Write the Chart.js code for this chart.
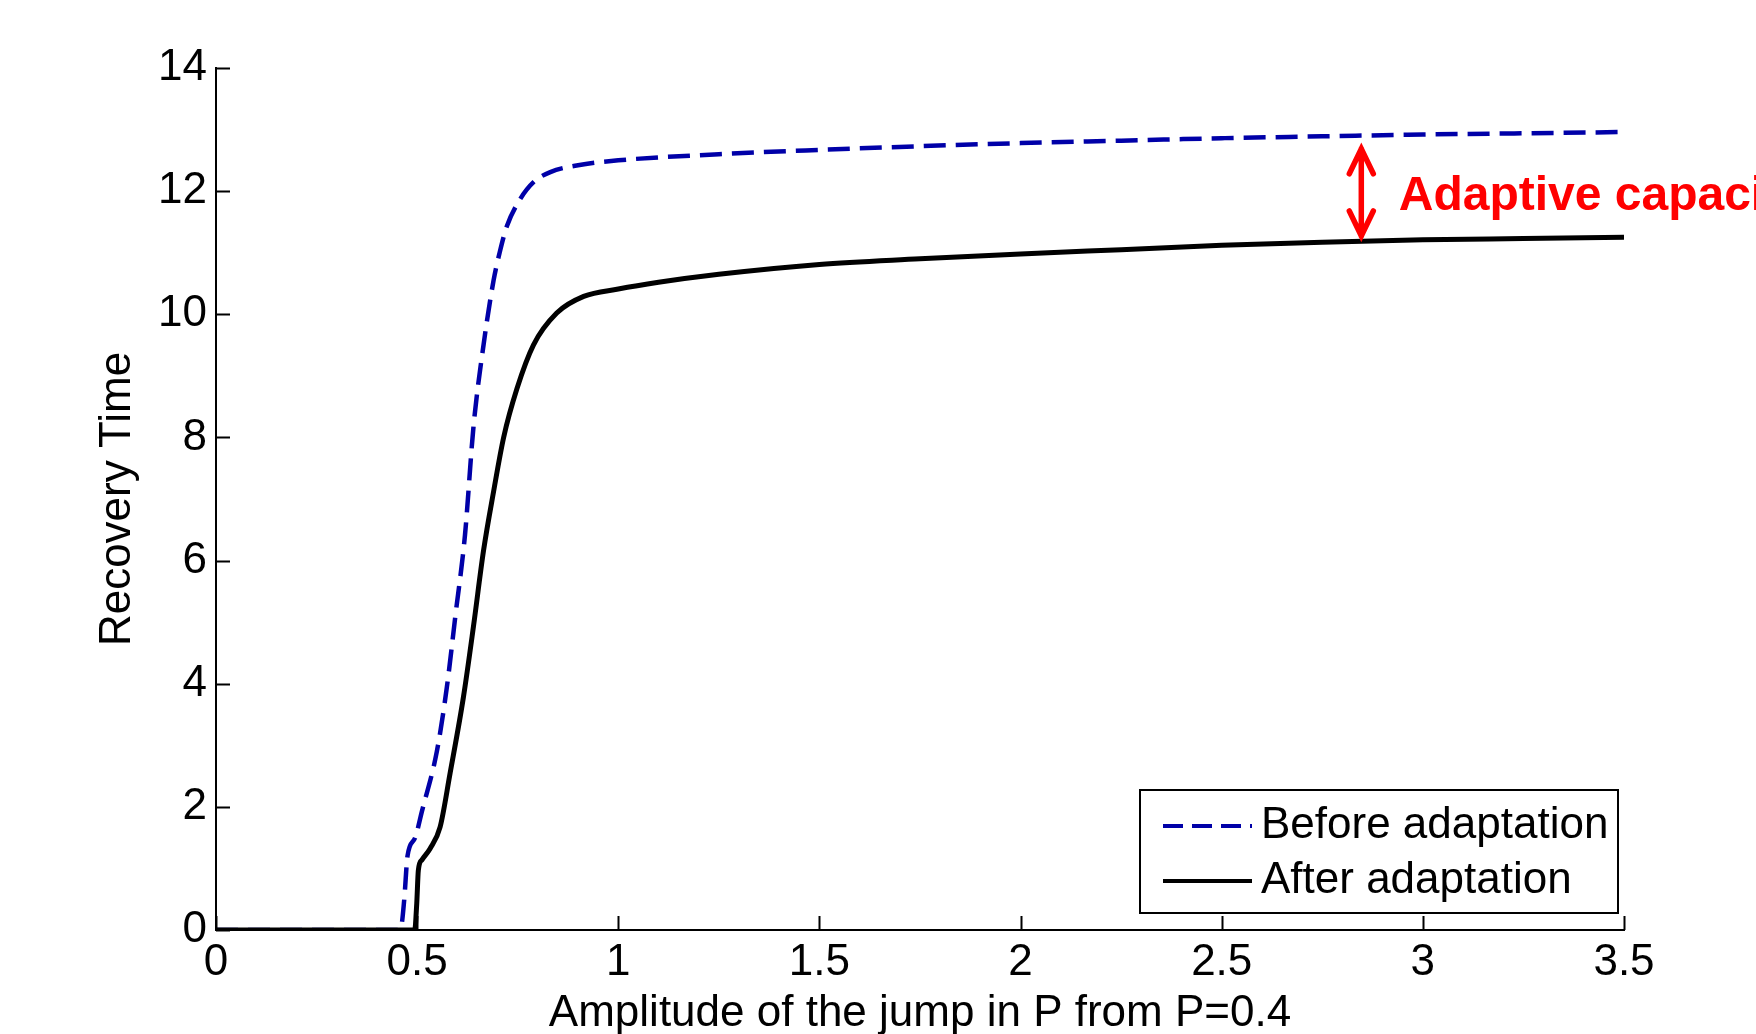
<!DOCTYPE html>
<html>
<head>
<meta charset="utf-8">
<script src="https://cdn.jsdelivr.net/npm/chart.js@4"></script>
<style>
  html, body { margin: 0; padding: 0; background: #fff; }
  #wrap { width: 1756px; height: 1034px; }
</style>
</head>
<body>
<div id="wrap"><canvas id="chart" width="1756" height="1034"></canvas></div>
<script>
// Recovery time vs jump amplitude, before / after adaptation

const xTickValues = [0, 0.5, 1, 1.5, 2, 2.5, 3, 3.5]
const xTickLabels = ['0', '0.5', '1', '1.5', '2', '2.5', '3', '3.5']
const yTickValues = [0, 2, 4, 6, 8, 10, 12, 14]
const yTickLabels = ['0', '2', '4', '6', '8', '10', '12', '14']

const beforeX = [0, 0.45, 0.46, 0.468, 0.476, 0.495, 0.512, 0.549, 0.574, 0.595, 0.619, 0.64, 0.665, 0.69, 0.705, 0.723, 0.756, 0.79, 0.831, 0.9, 1.0, 1.25, 1.5, 1.75, 2.0, 2.25, 2.5, 2.75, 3.0, 3.25, 3.5]
const beforeY = [0, 0, 0.05, 0.5, 1.2, 1.5, 1.93, 2.9, 3.95, 5.1, 6.42, 8.17, 9.5, 10.55, 11.0, 11.43, 11.87, 12.15, 12.31, 12.42, 12.5, 12.6, 12.67, 12.73, 12.78, 12.82, 12.86, 12.89, 12.92, 12.94, 12.96]

const afterX = [0, 0.494, 0.499, 0.503, 0.512, 0.532, 0.557, 0.582, 0.615, 0.64, 0.665, 0.69, 0.715, 0.748, 0.789, 0.847, 0.914, 1.0, 1.1, 1.25, 1.5, 1.75, 2.0, 2.25, 2.5, 2.75, 3.0, 3.25, 3.5]
const afterY = [0, 0, 0.43, 0.97, 1.14, 1.32, 1.67, 2.55, 3.78, 4.93, 6.16, 7.12, 8.0, 8.79, 9.5, 10.02, 10.29, 10.41, 10.52, 10.65, 10.81, 10.9, 10.98, 11.05, 11.12, 11.17, 11.21, 11.23, 11.25]

const seriesNames = ['Before adaptation', 'After adaptation']
const gapAt = 2.847
const gapTop = 12.72
const gapBottom = 11.24
const gapLabel = 'Adaptive capacity'

const FONT = '"Liberation Sans", Arial, Helvetica, sans-serif'
const BLUE = '#0000a8'

const toPoints = (xs, ys) => xs.map((x, i) => ({ x, y: ys[i] }))

// MATLAB-style ticks pointing into the plot, legend box and the red arrow
const extras = {
  id: 'extras',
  afterDraw(chart) {
    const { ctx, chartArea: a, scales: { x, y } } = chart
    ctx.save()

    ctx.strokeStyle = '#000'
    ctx.lineWidth = 2
    ctx.beginPath()
    xTickValues.forEach(v => {
      const px = Math.round(x.getPixelForValue(v)) + 0.5
      ctx.moveTo(px, a.bottom); ctx.lineTo(px, a.bottom - 14)
    })
    yTickValues.forEach(v => {
      const py = Math.round(y.getPixelForValue(v)) + 0.5
      ctx.moveTo(a.left, py); ctx.lineTo(a.left + 14, py)
    })
    ctx.stroke()

    // legend
    const bx = a.right - 484, by = a.bottom - 140, bw = 478, bh = 123
    ctx.fillStyle = '#fff'
    ctx.fillRect(bx, by, bw, bh)
    ctx.lineWidth = 2
    ctx.strokeRect(bx, by, bw, bh)
    const rows = [
      { name: seriesNames[0], color: BLUE, dash: [20, 9], y: by + 36 },
      { name: seriesNames[1], color: '#000', dash: [], y: by + 91 }
    ]
    ctx.font = '44px ' + FONT
    ctx.textBaseline = 'middle'
    rows.forEach(r => {
      ctx.strokeStyle = r.color
      ctx.lineWidth = 4
      ctx.setLineDash(r.dash)
      ctx.beginPath()
      ctx.moveTo(bx + 23, r.y); ctx.lineTo(bx + 112, r.y)
      ctx.stroke()
      ctx.setLineDash([])
      ctx.fillStyle = '#000'
      ctx.fillText(r.name, bx + 121, r.y)
    })

    // adaptive capacity arrow
    const ax = x.getPixelForValue(gapAt)
    const y1 = y.getPixelForValue(gapTop)
    const y2 = y.getPixelForValue(gapBottom)
    ctx.strokeStyle = '#ff0000'
    ctx.lineWidth = 5.5
    ctx.lineCap = 'round'
    ctx.beginPath()
    ctx.moveTo(ax, y1 + 2); ctx.lineTo(ax, y2 - 2)
    ctx.moveTo(ax - 12, y1 + 27); ctx.lineTo(ax, y1 + 2); ctx.lineTo(ax + 12, y1 + 27)
    ctx.moveTo(ax - 12, y2 - 27); ctx.lineTo(ax, y2 - 2); ctx.lineTo(ax + 12, y2 - 27)
    ctx.stroke()

    ctx.fillStyle = '#ff0000'
    ctx.font = 'bold 48px ' + FONT
    ctx.textBaseline = 'alphabetic'
    ctx.textAlign = 'left'
    ctx.fillText(gapLabel, x.getPixelForValue(2.94), y.getPixelForValue(11.69))

    ctx.restore()
  }
}

new Chart(document.getElementById('chart'), {
  type: 'line',
  data: {
    datasets: [
      {
        label: seriesNames[0],
        data: toPoints(beforeX, beforeY),
        borderColor: BLUE,
        borderWidth: 4.5,
        borderDash: [22, 10],
        pointRadius: 0,
        cubicInterpolationMode: 'monotone',
        fill: false,
        order: 1
      },
      {
        label: seriesNames[1],
        data: toPoints(afterX, afterY),
        borderColor: '#000',
        borderWidth: 5,
        pointRadius: 0,
        cubicInterpolationMode: 'monotone',
        fill: false,
        order: 0
      }
    ]
  },
  options: {
    responsive: false,
    animation: false,
    devicePixelRatio: 1,
    layout: { padding: { top: 68, right: 132, left: 0, bottom: 0 } },
    plugins: {
      legend: { display: false },
      tooltip: { enabled: false }
    },
    scales: {
      x: {
        type: 'linear',
        min: 0,
        max: 3.5,
        afterBuildTicks: s => { s.ticks = xTickValues.map(v => ({ value: v })) },
        afterFit: s => { s.height = 104 },
        ticks: {
          callback: (v, i) => xTickLabels[i],
          color: '#000',
          padding: 6.6,
          maxRotation: 0,
          font: { family: FONT, size: 44 }
        },
        grid: { display: false, drawTicks: false },
        border: { display: true, color: '#000', width: 2 },
        title: {
          display: true,
          text: 'Amplitude of the jump in P from P=0.4',
          color: '#000',
          padding: { top: 0, bottom: -2 },
          font: { family: FONT, size: 44, lineHeight: 1 }
        }
      },
      y: {
        type: 'linear',
        min: 0,
        max: 14,
        afterBuildTicks: s => { s.ticks = yTickValues.map(v => ({ value: v })) },
        afterFit: s => { s.width = 216 },
        ticks: {
          callback: (v, i) => yTickLabels[i],
          color: '#000',
          padding: 9,
          font: { family: FONT, size: 44 }
        },
        grid: { display: false, drawTicks: false },
        border: { display: true, color: '#000', width: 2 },
        title: {
          display: true,
          text: 'Recovery Time',
          color: '#000',
          padding: { top: 96, bottom: 0 },
          font: { family: FONT, size: 44, lineHeight: 1 }
        }
      }
    }
  },
  plugins: [extras]
})
</script>
</body>
</html>
